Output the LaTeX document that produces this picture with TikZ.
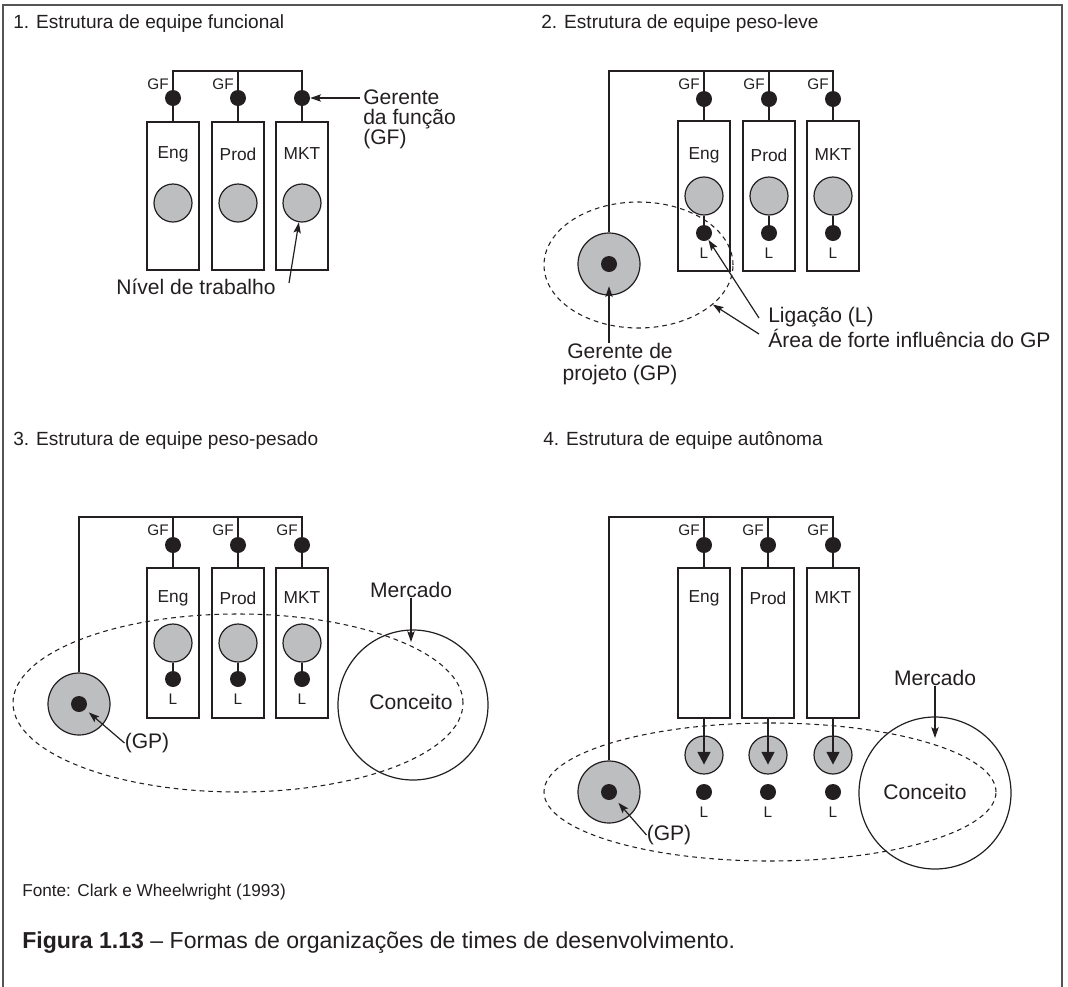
\documentclass[tikz,border=0pt]{standalone}
\usepackage{fontspec}
\setmainfont{Liberation Sans}
\usetikzlibrary{arrows.meta,shapes.geometric}
\definecolor{workgray}{RGB}{188,190,192}
\definecolor{ink}{RGB}{35,31,32}
\definecolor{framegray}{RGB}{85,85,85}

\begin{document}
\begin{tikzpicture}[x=0.75pt,y=-0.75pt,
  ln/.style={draw=ink,line width=0.9pt},
  dept/.style={draw=ink,line width=0.9pt,minimum width=39pt,inner sep=0pt},
  deptlab/.style={font=\fontsize{13}{14}\selectfont,text=ink,inner sep=0pt},
  work/.style={circle,draw=ink,line width=0.9pt,fill=workgray,minimum size=28.5pt,inner sep=0pt},
  dot/.style={circle,fill=ink,minimum size=12pt,inner sep=0pt},
  gp/.style={circle,draw=ink,line width=0.9pt,fill=workgray,minimum size=46.5pt,inner sep=0pt},
  small/.style={font=\fontsize{11.5}{13}\selectfont,text=ink,inner sep=0pt},
  body/.style={font=\fontsize{15.8}{17}\selectfont,text=ink,inner sep=0pt},
  ttl/.style={font=\fontsize{14.3}{16}\selectfont,text=ink,inner sep=0pt,anchor=west},
  zone/.style={ellipse,draw=ink,line width=0.8pt,dash pattern=on 3.5pt off 3pt,inner sep=0pt},
  concept/.style={circle,draw=ink,line width=0.9pt,minimum size=112.5pt,inner sep=0pt},
  arr/.style={draw=ink,line width=0.9pt,-{Stealth[length=8pt,width=5.5pt,inset=1.5pt]}},
  bigarr/.style={draw=ink,line width=1.6pt,-{Triangle[length=9.5pt,width=9.5pt]}},
]
\useasboundingbox (0,0) rectangle (1068,986);

% outer frame (open at the bottom)
\draw[framegray,line width=1.5pt] (3,990) -- (3,5) -- (1062,5) -- (1062,990);

% ---------- titles ----------
\node[ttl] (t1) at (13,24) {1. Estrutura de equipe funcional};
\node[ttl] (t2) at (541,24) {2. Estrutura de equipe peso-leve};
\node[ttl] (t3) at (13,441) {3. Estrutura de equipe peso-pesado};
\node[ttl] (t4) at (543,441) {4. Estrutura de equipe autônoma};

% ---------- 1. functional ----------
\foreach \k/\x/\t in {a/173/Eng,b/238/Prod,c/302/MKT}{
  \node[dept,minimum height=111pt] (q1\k) at (\x,196) {};
  \node[deptlab] (q1t\k) at (\x,154) {\t};
  \node[work] (q1w\k) at (\x,203) {};
  \node[dot] (q1g\k) at (\x,98) {};
  \draw[ln] (q1g\k) -- (q1\k.north);
}
\coordinate (q1busl) at (173,71);
\coordinate (q1busr) at (302,71);
\draw[ln] (q1ga) -- (q1busl) -- (q1busr) -- (q1gc);
\draw[ln] (q1gb) -- (q1gb |- q1busl);
\node[small,anchor=east] at (169,84) {GF};
\node[small,anchor=east] at (234,84) {GF};
\node[body,align=left,anchor=north west,font=\fontsize{15.8}{15}\selectfont] (q1ger) at (363,90) {Gerente\\da função\\(GF)};
\coordinate (q1gs) at (360,98);
\draw[arr] (q1gs) -- (q1gc);
\node[body] (q1niv) at (196,287) {Nível de trabalho};
\coordinate (q1ns) at (289,283);
\draw[arr] (q1ns) -- (q1wc);

% ---------- 2. lightweight ----------
\node[zone,minimum width=141.75pt,minimum height=94.5pt] (q2zone) at (638.5,265) {};
\foreach \k/\x/\t in {a/704/Eng,b/769/Prod,c/833/MKT}{
  \node[dept,minimum height=112.5pt] (q2\k) at (\x,196) {};
  \node[deptlab] (q2t\k) at (\x,155) {\t};
  \node[work] (q2w\k) at (\x,196) {};
  \node[dot] (q2g\k) at (\x,99) {};
  \node[dot] (q2L\k) at (\x,233) {};
  \node[small] (q2l\k) at (\x,253) {L};
  \node[small,anchor=east] at (\x-4,84) {GF};
  \draw[ln] (q2g\k) -- (q2\k.north);
  \draw[ln] (q2w\k) -- (q2L\k);
}
\node[gp] (q2gp) at (609,264) {};
\node[dot] (q2gpd) at (609,264) {};
\coordinate (q2busl) at (609,71);
\coordinate (q2busr) at (833,71);
\draw[ln] (q2gp) -- (q2busl) -- (q2busr) -- (q2gc);
\draw[ln] (q2ga) -- (q2ga |- q2busl);
\draw[ln] (q2gb) -- (q2gb |- q2busl);
\node[body,align=center,font=\fontsize{15.8}{17}\selectfont] (q2gpt) at (620,364) {Gerente de\\projeto (GP)};
\draw[arr,shorten >=10.5pt] (q2gpd |- q2gpt.north) -- (q2gpd);
\node[body,anchor=west] (q2lig) at (768,317) {Ligação (L)};
\node[body,anchor=west] (q2inf) at (768,338) {Área de forte influência do GP};
\coordinate (q2ls) at (759,318);
\coordinate (q2is) at (759,334);
\draw[arr] (q2ls) -- (q2La);
\draw[arr] (q2is) -- (q2zone.-28);

% ---------- 3. heavyweight ----------
\node[zone,minimum width=337.5pt,minimum height=133.5pt] (q3zone) at (238,703) {};
\foreach \k/\x/\t in {a/173/Eng,b/238/Prod,c/302/MKT}{
  \node[dept,minimum height=112.5pt] (q3\k) at (\x,643) {};
  \node[deptlab] (q3t\k) at (\x,598) {\t};
  \node[work] (q3w\k) at (\x,643) {};
  \node[dot] (q3g\k) at (\x,545) {};
  \node[dot] (q3L\k) at (\x,679) {};
  \node[small] (q3l\k) at (\x,699) {L};
  \node[small,anchor=east] at (\x-4,530) {GF};
  \draw[ln] (q3g\k) -- (q3\k.north);
  \draw[ln] (q3w\k) -- (q3L\k);
}
\node[gp] (q3gp) at (79,704) {};
\node[dot] (q3gpd) at (79,704) {};
\coordinate (q3busl) at (79,517);
\coordinate (q3busr) at (302,517);
\draw[ln] (q3gp) -- (q3busl) -- (q3busr) -- (q3gc);
\draw[ln] (q3ga) -- (q3ga |- q3busl);
\draw[ln] (q3gb) -- (q3gb |- q3busl);
\node[body] (q3gpt) at (147,743) {(GP)};
\draw[arr,shorten >=3.5pt] (q3gpt.west) -- (q3gpd);
\node[concept] (q3con) at (413,705) {};
\node[body] (q3cont) at (411,702) {Conceito};
\node[body] (q3merc) at (411,590) {Mercado};
\coordinate (q3mtip) at (411,642);
\draw[arr] (q3merc.south) -- (q3mtip);

% ---------- 4. autonomous ----------
\node[zone,minimum width=339pt,minimum height=103.5pt] (q4zone) at (770,792) {};
\foreach \k/\x/\t in {a/704/Eng,b/768/Prod,c/833/MKT}{
  \node[dept,minimum height=112.5pt] (q4\k) at (\x,643) {};
  \node[deptlab] (q4t\k) at (\x,598) {\t};
  \node[work] (q4w\k) at (\x,755) {};
  \node[dot] (q4g\k) at (\x,545) {};
  \node[dot] (q4L\k) at (\x,792) {};
  \node[small] (q4l\k) at (\x,812) {L};
  \node[small,anchor=east] at (\x-4,530) {GF};
  \draw[ln] (q4g\k) -- (q4\k.north);
  \draw[bigarr,shorten >=7.5pt] (q4\k.south) -- (q4w\k.south);
}
\node[gp] (q4gp) at (609,792) {};
\node[dot] (q4gpd) at (609,792) {};
\coordinate (q4busl) at (609,517);
\coordinate (q4busr) at (833,517);
\draw[ln] (q4gp) -- (q4busl) -- (q4busr) -- (q4gc);
\draw[ln] (q4ga) -- (q4ga |- q4busl);
\draw[ln] (q4gb) -- (q4gb |- q4busl);
\node[body] (q4gpt) at (669,835) {(GP)};
\draw[arr,shorten >=4.5pt] (q4gpt.west) -- (q4gpd);
\node[concept,minimum size=114pt] (q4con) at (935,793) {};
\node[body] (q4cont) at (925,792) {Conceito};
\node[body] (q4merc) at (935,678) {Mercado};
\coordinate (q4mtip) at (935,738);
\draw[arr] (q4merc.south) -- (q4mtip);

% ---------- source and caption ----------
\node[font=\fontsize{12.9}{15}\selectfont,text=ink,anchor=west,inner sep=0pt] (src) at (22,892) {Fonte: Clark e Wheelwright (1993)};
\node[font=\fontsize{17.3}{20}\selectfont,text=ink,anchor=west,inner sep=0pt] (cap) at (22,943) {\textbf{Figura 1.13} – Formas de organizações de times de desenvolvimento.};
\end{tikzpicture}
\end{document}
